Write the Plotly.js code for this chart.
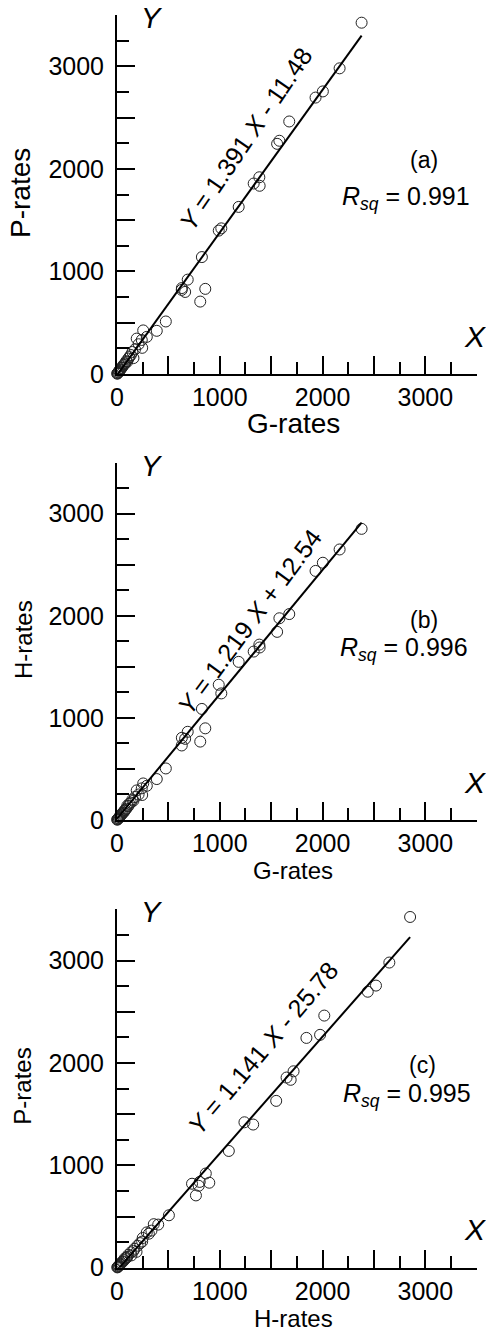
<!DOCTYPE html>
<html>
<head>
<meta charset="utf-8">
<script src="https://cdn.plot.ly/plotly-3.0.1.min.js"></script>
<style>html,body{margin:0;padding:0;background:#fff;}#chart{width:486px;height:1335px;}</style>
</head>
<body>
<div id="chart"></div>
<script>
// Rates for each item (same items in all three panels)
const gRates = [2380, 2166, 2003, 1932, 1676, 1580, 1558, 1388, 1385, 1330, 1184, 1015, 990, 826, 688, 631, 663, 630, 859, 810, 475, 387,
  255, 290, 241, 192, 245, 210, 175, 160, 150, 135, 120, 110, 100, 90, 80, 72, 65, 55, 48, 40, 34, 28, 22, 17, 12, 8, 5, 2];
const hRates = [2852, 2650, 2520, 2440, 2017, 1976, 1843, 1690, 1718, 1650, 1549, 1240, 1325, 1088, 864, 805, 795, 730, 898, 768, 505, 401,
  358, 335, 310, 290, 245, 250, 225, 190, 200, 170, 160, 135, 140, 110, 100, 90, 75, 70, 60, 50, 42, 35, 28, 20, 15, 10, 6, 3];
const pRates = [3425, 2980, 2755, 2695, 2462, 2274, 2244, 1835, 1918, 1857, 1629, 1420, 1398, 1140, 920, 838, 800, 820, 830, 706, 512, 421,
  425, 362, 332, 345, 255, 290, 240, 155, 215, 185, 165, 150, 120, 125, 105, 95, 90, 75, 62, 58, 45, 38, 30, 22, 16, 10, 6, 3];

// Panels: x data, y data, labels, fit
const panelX = [gRates, gRates, hRates];
const panelY = [pRates, hRates, pRates];
const panelTags = ['(a)', '(b)', '(c)'];
const fitSlope = [1.391, 1.219, 1.141];
const fitIntercept = [-11.48, 12.54, -25.78];
const fitText = ['<i>Y</i> = 1.391 <i>X</i> - 11.48', '<i>Y</i> = 1.219 <i>X</i> + 12.54', '<i>Y</i> = 1.141 <i>X</i> - 25.78'];
const rsqValues = ['0.991', '0.996', '0.995'];
const xTitles = ['G-rates', 'G-rates', 'H-rates'];
const yTitles = ['P-rates', 'H-rates', 'P-rates'];
const tickVals = [0, 500, 1000, 1500, 2000, 2500, 3000, 3500];
const tickText = ['0', ' ', '1000', ' ', '2000', ' ', '3000', ' '];
const minorVals = [250, 750, 1250, 1750, 2250, 2750, 3250];

const W = 486, H = 1335;
const FONT = 'Liberation Sans, Arial, Helvetica, sans-serif';
const px = v => v / W;
const py = v => 1 - v / H;

// pixel geometry of each panel (top, bottom of plot area)
const panelTop = [15, 462.7, 909.3];
const panelBottom = [374, 820, 1267.7];
const xLeft = 117, xRight = 476.7;

const titleSize = [28, 24, 24];
const xTitleY = [424, 870, 1334];
const xTitleAnchor = ['middle', 'middle', 'bottom'];
const yTitleX = [20, 23, 23];
const yTitleY = [193, 640, 1086.7];
const eqPos = [[1252, 2288, -55.7], [1293, 1950, -53.4], [1420, 2145, -49.8]];
const tagPos = [[2988, 2084], [2988, 1955], [2973, 1981]];
const rsqPos = [[2810, 1714], [2793, 1678], [2826, 1688]];

const traces = [];
const layout = {
  width: W, height: H,
  margin: {l: 0, r: 0, t: 0, b: 0},
  paper_bgcolor: '#fff', plot_bgcolor: '#fff',
  showlegend: false,
  font: {family: FONT, color: '#000'},
  annotations: []
};

for (let i = 0; i < 3; i++) {
  const sfx = i === 0 ? '' : String(i + 1);
  const xa = 'x' + sfx, ya = 'y' + sfx;
  const xs = panelX[i], ys = panelY[i];
  traces.push({
    type: 'scatter', mode: 'markers', x: xs, y: ys, xaxis: xa, yaxis: ya,
    cliponaxis: false,
    marker: {symbol: 'circle-open', size: 11, color: '#222', line: {width: 1, color: '#222'}},
    hoverinfo: 'skip'
  });
  const xmin = 0, xmax = Math.max.apply(null, xs);
  traces.push({
    type: 'scatter', mode: 'lines', xaxis: xa, yaxis: ya,
    x: [xmin, xmax],
    y: [fitSlope[i] * xmin + fitIntercept[i], fitSlope[i] * xmax + fitIntercept[i]],
    line: {color: '#000', width: 2},
    hoverinfo: 'skip'
  });

  const common = {
    range: [0, 3500], autorange: false,
    showgrid: false, zeroline: false,
    showline: true, linecolor: '#000', linewidth: 2,
    ticks: 'inside', ticklen: 18, tickwidth: 2, tickcolor: '#000',
    tickmode: 'array', tickvals: tickVals, ticktext: tickText,
    tickfont: {family: FONT, size: 25, color: '#000'},
    minor: {tickmode: 'array', tickvals: minorVals, ticks: 'inside', ticklen: 12, tickwidth: 2, tickcolor: '#000'},
    fixedrange: true
  };
  layout['xaxis' + sfx] = Object.assign({}, common, {
    domain: [px(xLeft), px(xRight)], anchor: ya, ticklabelstandoff: 0
  });
  layout['yaxis' + sfx] = Object.assign({}, common, {
    domain: [py(panelBottom[i]), py(panelTop[i])], anchor: xa, ticklabelstandoff: 6
  });

  const ann = layout.annotations;
  ann.push({xref: xa, yref: ya, x: eqPos[i][0], y: eqPos[i][1], text: fitText[i], showarrow: false,
    textangle: eqPos[i][2], font: {family: FONT, size: 25, color: '#000'}, xanchor: 'center', yanchor: 'middle'});
  ann.push({xref: xa, yref: ya, x: tagPos[i][0], y: tagPos[i][1], text: panelTags[i], showarrow: false,
    font: {family: FONT, size: 23, color: '#000'}, xanchor: 'center', yanchor: 'middle'});
  ann.push({xref: xa, yref: ya, x: rsqPos[i][0], y: rsqPos[i][1], text: '<i>R</i><sub><i>sq</i></sub> = ' + rsqValues[i],
    showarrow: false, font: {family: FONT, size: 25, color: '#000'}, xanchor: 'center', yanchor: 'middle'});
  ann.push({xref: xa, yref: ya, x: 341, y: 3470, text: '<i>Y</i>', showarrow: false,
    font: {family: FONT, size: 29, color: '#000'}, xanchor: 'center', yanchor: 'middle'});
  ann.push({xref: xa, yref: ya, x: 3483, y: 370, text: '<i>X</i>', showarrow: false,
    font: {family: FONT, size: 30, color: '#000'}, xanchor: 'center', yanchor: 'middle'});
  ann.push({xref: 'paper', yref: 'paper', x: px(293), y: py(xTitleY[i]), text: xTitles[i], showarrow: false,
    font: {family: FONT, size: titleSize[i], color: '#000'}, xanchor: 'center', yanchor: xTitleAnchor[i]});
  ann.push({xref: 'paper', yref: 'paper', x: px(yTitleX[i]), y: py(yTitleY[i]), text: yTitles[i], showarrow: false,
    textangle: -90, font: {family: FONT, size: titleSize[i], color: '#000'}, xanchor: 'center', yanchor: 'middle'});
}

Plotly.newPlot('chart', traces, layout, {staticPlot: true, displayModeBar: false});
</script>
</body>
</html>
